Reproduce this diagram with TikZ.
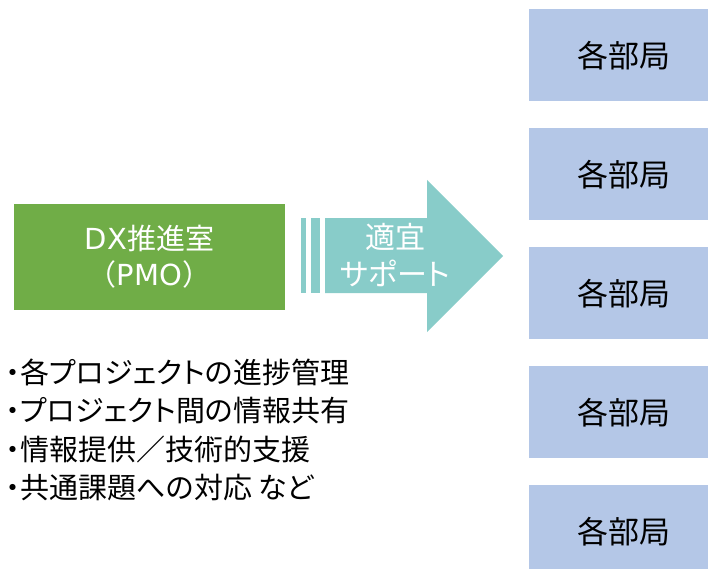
\documentclass[tikz,border=0pt]{standalone}
\usepackage{fontspec}
\setmainfont{Noto Sans CJK JP}[RawFeature=+palt]
\newfontfamily\jpfull{Noto Sans CJK JP}
\newfontfamily\latin{DejaVu Sans}
\definecolor{pgreen}{HTML}{70AD47}
\definecolor{pteal}{HTML}{88CCC9}
\definecolor{pblue}{HTML}{B4C7E7}
\tikzset{
  bureau/.style={fill=pblue, minimum width=190pt, minimum height=92pt, inner sep=0pt,
    anchor=north west, text=black, font=\fontsize{31}{36}\selectfont},
  pmobox/.style={fill=pgreen, minimum width=271pt, minimum height=106pt, inner sep=0pt,
    text=white, align=center, font=\jpfull\fontsize{29}{36}\selectfont},
  arrowshape/.style={fill=pteal, draw=none},
  arrowtext/.style={text=white, align=center, inner sep=0pt, font=\fontsize{30}{37}\selectfont},
  listline/.style={anchor=base west, inner sep=0pt, text=black, font=\fontsize{29}{38.5}\selectfont}
}
\begin{document}
\begin{tikzpicture}[x=1pt,y=-1pt]
\useasboundingbox (0,0) rectangle (708,569);
\clip (0,0) rectangle (708,569);
% right-hand boxes
\node[bureau] (b1) at (529,9) {各部局};
\node[bureau] (b2) at (529,128) {各部局};
\node[bureau] (b3) at (529,247) {各部局};
\node[bureau] (b4) at (529,366) {各部局};
\node[bureau] (b5) at (529,485) {各部局};
% PMO box
\node[pmobox] (pmo) at (149.5,257) {{\latin DX}推進室\\（{\latin PMO}）};
% striped arrow
\fill[arrowshape] (301,218) rectangle (305.7,293);
\fill[arrowshape] (310.7,218) rectangle (320,293);
\fill[arrowshape] (325,218) -- (427,218) -- (427,180) -- (503,256) -- (427,332) -- (427,293) -- (325,293) -- cycle;
\node[arrowtext] (sup) at (395,255.5) {適宜\\サポート};
% list
\node[listline] (l1) at (6,383) {・各プロジェクトの進捗管理};
\node[listline] (l2) at (6,421.5) {・プロジェクト間の情報共有};
\node[listline] (l3) at (6,460) {・情報提供／技術的支援};
\node[listline] (l4) at (6,498.5) {・共通課題への対応 など};
\end{tikzpicture}
\end{document}
